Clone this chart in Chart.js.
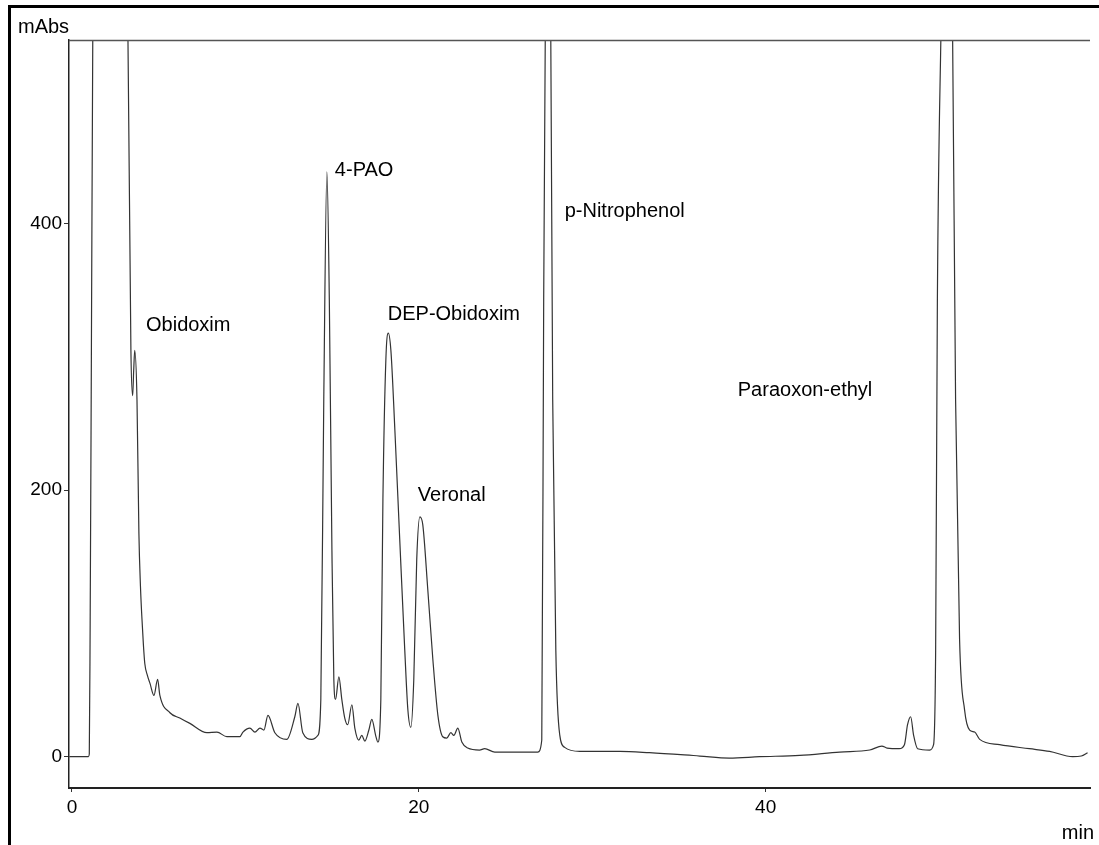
<!DOCTYPE html>
<html>
<head>
<meta charset="utf-8">
<script src="https://cdn.jsdelivr.net/npm/chart.js@4/dist/chart.umd.min.js"></script>
<style>
  html, body { margin: 0; padding: 0; background: #fff; }
  #wrap { width: 1099px; height: 845px; position: relative; }
</style>
</head>
<body>
<div id="wrap"><canvas id="chrom" width="1099" height="845"></canvas></div>
<script>
// retention time (min)
const times = [
  -0.15, 0.95, 1.0, 1.05, 1.12, 1.2, 1.25, 3.1, 3.23, 3.4, 3.5, 3.56, 3.62, 3.75, 3.86,
  3.95, 4.03, 4.12, 4.2, 4.35, 4.5, 4.73, 4.94, 5.07, 5.65, 6.22, 6.8, 7.78, 8.36, 8.93, 9.68, 9.86,
  10.26, 10.55, 10.84, 11.07, 11.3, 11.7, 12.39, 12.85, 13.03, 13.31, 13.83, 14.18,
  14.35, 14.52, 14.7, 14.84, 14.99, 15.1, 15.2, 15.39, 15.56, 15.73, 15.9, 16.14,
  16.31, 16.54, 16.71, 16.89, 17.12, 17.29, 17.52, 17.64, 17.81, 17.93, 18.1, 18.24,
  18.39, 18.62, 18.9, 19.19, 19.37, 19.54, 19.71, 19.88, 20.06, 20.23, 20.52, 20.81,
  21.1, 21.38, 21.61, 21.85, 22.02, 22.25, 22.48, 22.82, 23.5, 23.8, 24.38, 25.8,
  26.86, 27.09, 27.2, 27.29, 27.35, 27.55, 27.61, 27.72, 27.9, 28.13, 28.41, 29.28,
  31.6, 33.3, 36.2, 37.9, 39.65, 41.96, 44.27, 46.0, 46.7, 47.0, 47.7, 48.0, 48.18,
  48.36, 48.53, 48.76, 49.45, 49.68, 49.8, 49.9, 50.1, 50.2, 50.7, 50.78, 50.95,
  51.18, 51.47, 51.76, 52.05, 52.34, 53.49, 55.2, 56.37, 57.7, 58.2, 58.56
];
// detector signal (mAbs), values above the top are off scale
const signal = [
  0, 0, 2, 100, 300, 538, 600, 600, 538, 305, 271, 290, 305, 268, 168,
  128, 105, 84, 70, 61, 55, 46, 58, 46, 33, 29, 25, 18, 18.5, 15, 15, 18.5,
  21.5, 18.5, 21.5, 20, 31, 18, 13, 30, 40, 18, 13, 16,
  43, 268, 439, 343, 155, 58, 43, 60, 43, 29, 24, 39,
  21.5, 12.5, 16, 11.7, 20, 28, 15.5, 11, 43, 193, 298, 318,
  305, 245, 163, 80, 35, 22, 58, 148, 180, 174, 125, 73,
  31, 15, 14, 18, 16, 21.5, 11, 6.5, 5, 6, 3.5, 3.5,
  3.5, 12.5, 343, 538, 600, 600, 538, 268, 80, 16, 7, 4,
  4, 3, 0.5, -1, 0, 1, 3.5, 5, 8, 6.5, 6, 9, 24,
  30, 16, 6, 5, 9, 80, 343, 538, 600, 600, 538, 268,
  88, 35, 20, 18.5, 13, 9, 6, 4, 0, 0.5, 3
];

const yTicks = [0, 200, 400];
const xTicks = [0, 20, 40];

// peak names and where their text starts
const peakNames = ['Obidoxim', '4-PAO', 'DEP-Obidoxim', 'Veronal', 'p-Nitrophenol', 'Paraoxon-ethyl'];
const labelTimes = [4.27, 15.16, 18.21, 19.94, 28.41, 38.39];
const labelValues = [324, 440, 332, 196, 409, 275];

const points = times.map((t, i) => ({ x: t, y: signal[i] }));

const FONT = '"Liberation Sans", Arial, sans-serif';

const decor = {
  id: 'decor',
  beforeDraw(chart) {
    const c = chart.ctx;
    c.save();
    c.fillStyle = '#000';
    c.fillRect(8, 5, 3, 840);
    c.fillRect(8, 5, 1091, 3);
    c.restore();
  },
  afterDraw(chart) {
    const c = chart.ctx;
    const a = chart.chartArea;
    const xs = chart.scales.x, ys = chart.scales.y;
    c.save();
    // top line of the plot
    c.strokeStyle = '#555';
    c.lineWidth = 1.5;
    c.beginPath();
    c.moveTo(a.left, a.top + 0.5);
    c.lineTo(a.right, a.top + 0.5);
    c.stroke();

    c.fillStyle = '#000';
    c.font = '20px ' + FONT;
    c.textBaseline = 'middle';
    c.textAlign = 'left';
    peakNames.forEach((name, i) => {
      c.fillText(name, xs.getPixelForValue(labelTimes[i]), ys.getPixelForValue(labelValues[i]));
    });

    c.fillText('mAbs', 18, 27);
    c.textAlign = 'right';
    c.fillText('min', 1094, 833);
    c.restore();
  }
};

new Chart(document.getElementById('chrom'), {
  type: 'line',
  data: {
    datasets: [{
      data: points,
      borderColor: '#333',
      borderWidth: 1.2,
      pointRadius: 0,
      fill: false,
      cubicInterpolationMode: 'monotone',
      clip: 0
    }]
  },
  options: {
    responsive: false,
    animation: false,
    events: [],
    layout: { padding: { left: 0, right: 9, top: 40, bottom: 0 } },
    plugins: { legend: { display: false }, tooltip: { enabled: false } },
    scales: {
      x: {
        type: 'linear',
        min: -0.17,
        max: 58.7,
        afterFit: s => { s.height = 57; },
        afterBuildTicks: s => { s.ticks = xTicks.map(v => ({ value: v })); },
        ticks: { color: '#000', font: { size: 19, family: FONT }, padding: 4 },
        grid: { drawOnChartArea: false, tickLength: 4, color: '#333' },
        border: { color: '#222', width: 2 }
      },
      y: {
        min: -23.5,
        max: 538,
        afterFit: s => { s.width = 69; },
        afterBuildTicks: s => { s.ticks = yTicks.map(v => ({ value: v })); },
        ticks: { color: '#000', font: { size: 19, family: FONT }, padding: 2 },
        grid: { drawOnChartArea: false, tickLength: 5, color: '#333' },
        border: { color: '#222', width: 1.5 }
      }
    }
  },
  plugins: [decor]
});
</script>
</body>
</html>
